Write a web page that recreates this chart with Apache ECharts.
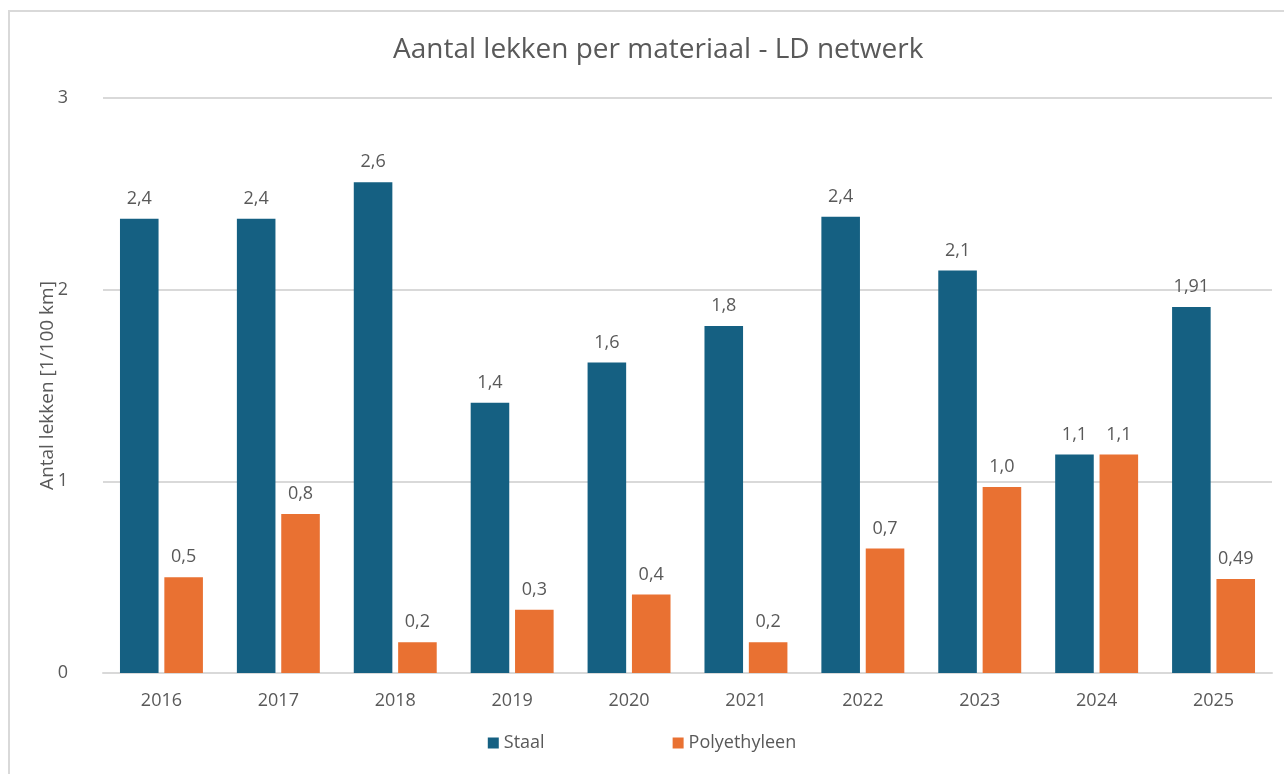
<!DOCTYPE html>
<html>
<head>
<meta charset="utf-8">
<script src="https://cdn.jsdelivr.net/npm/echarts@6/dist/echarts.min.js"></script>
<style>
  html, body { margin: 0; padding: 0; background: #fff; }
  #frame { position: absolute; left: 8px; top: 10px; width: 1290px; height: 780px;
           border-top: 2px solid #d9d9d9; border-left: 2px solid #d9d9d9; }
  #chart { position: absolute; left: 0; top: 0; width: 1284px; height: 774px; }
</style>
</head>
<body>
<div id="frame"></div>
<div id="chart"></div>
<script>
// jaren op de x-as
const years = ['2016', '2017', '2018', '2019', '2020', '2021', '2022', '2023', '2024', '2025']

const staal = [2.37, 2.37, 2.56, 1.41, 1.62, 1.81, 2.38, 2.10, 1.14, 1.91]
const poly = [0.50, 0.83, 0.16, 0.33, 0.41, 0.16, 0.65, 0.97, 1.14, 0.49]

// labels zoals ze in de grafiek staan (afgerond)
const staalLabels = ['2,4', '2,4', '2,6', '1,4', '1,6', '1,8', '2,4', '2,1', '1,1', '1,91']
const polyLabels = ['0,5', '0,8', '0,2', '0,3', '0,4', '0,2', '0,7', '1,0', '1,1', '0,49']

const yTicks = [0, 1, 2, 3]

const font = '"Open Sans", "Noto Sans", sans-serif'
const grey = '#595959'

function labelFor(texts) {
  return {
    show: true,
    position: 'top',
    distance: 11,
    color: grey,
    fontFamily: font,
    fontSize: 18,
    formatter: p => texts[p.dataIndex]
  }
}

const chart = echarts.init(document.getElementById('chart'))
chart.setOption({
  animation: false,
  textStyle: { fontFamily: font },
  title: {
    text: 'Aantal lekken per materiaal - LD netwerk',
    left: 388,
    top: 31,
    textStyle: { color: grey, fontFamily: font, fontSize: 28, fontWeight: 'normal' }
  },
  legend: {
    bottom: 17,
    left: 'center',
    itemWidth: 11,
    itemHeight: 11,
    itemGap: 128,
    icon: 'rect',
    textStyle: { color: grey, fontFamily: font, fontSize: 18 },
    data: ['Staal', 'Polyethyleen']
  },
  grid: { left: 103, right: 12, top: 98, bottom: 101 },
  xAxis: {
    type: 'category',
    data: years,
    axisLine: { lineStyle: { color: '#d9d9d9', width: 2 } },
    axisTick: { show: false },
    axisLabel: { color: grey, fontFamily: font, fontSize: 18, margin: 19 }
  },
  yAxis: {
    type: 'value',
    min: yTicks[0],
    max: yTicks[yTicks.length - 1],
    interval: 1,
    name: 'Antal lekken [1/100 km]',
    nameLocation: 'middle',
    nameGap: 46,
    nameMoveOverlap: false,
    nameTextStyle: { color: grey, fontFamily: font, fontSize: 19 },
    axisLabel: { color: grey, fontFamily: font, fontSize: 18, margin: 35 },
    splitLine: { lineStyle: { color: '#d9d9d9', width: 2 } }
  },
  series: [
    {
      name: 'Staal',
      type: 'bar',
      data: staal,
      barWidth: '33%',
      barGap: '15%',
      itemStyle: { color: '#156082' },
      label: labelFor(staalLabels)
    },
    {
      name: 'Polyethyleen',
      type: 'bar',
      data: poly,
      barWidth: '33%',
      itemStyle: { color: '#E97132' },
      label: labelFor(polyLabels)
    }
  ]
})
</script>
</body>
</html>
